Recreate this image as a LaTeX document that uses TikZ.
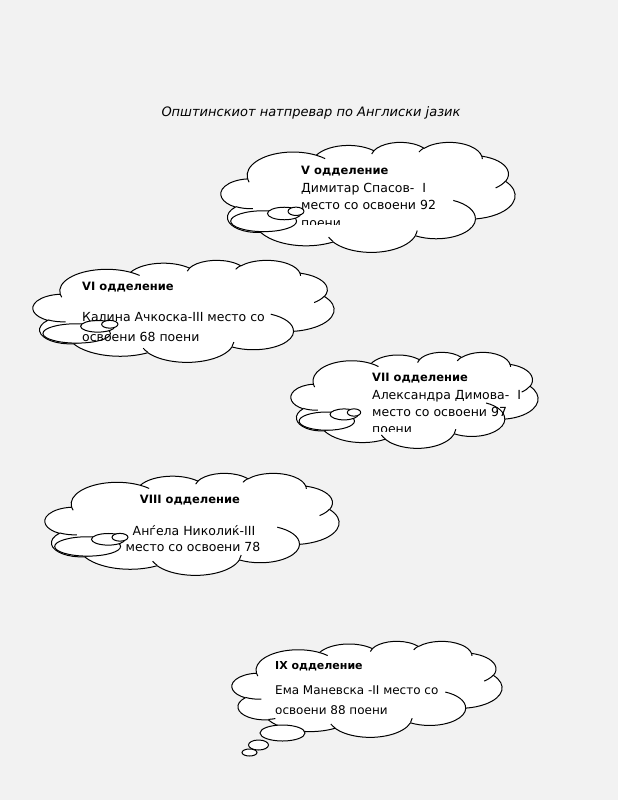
\documentclass[tikz,border=0pt]{standalone}
\usepackage{fontspec}
\setmainfont{DejaVu Sans}
\definecolor{bgc}{HTML}{F2F2F2}
% arc of the Office cloud: wR hR start sweep (visual angles, degrees)
\newcommand\oarc[4]{arc[x radius=#1, y radius=#2,
  start angle={atan2((#1)*sin(#3),(#2)*cos(#3))},
  delta angle={mod(atan2((#1)*sin((#3)+(#4)),(#2)*cos((#3)+(#4)))-atan2((#1)*sin(#3),(#2)*cos(#3))+720,360)}]}
\newcommand\cloudbody{(3.900,14.370)
  \oarc{6.753}{9.190}{-190.4875}{123.7805}
  \oarc{5.333}{7.267}{-144.1024}{89.9452}
  \oarc{4.365}{5.945}{-145.8079}{99.7230}
  \oarc{4.857}{6.595}{-130.9861}{117.2417}
  \oarc{5.333}{7.273}{-78.7089}{109.0269}
  \oarc{6.775}{9.220}{-46.2673}{130.2690}
  \oarc{5.785}{7.867}{0.6250}{114.0333}
  \oarc{6.752}{9.215}{22.4516}{115.1726}
  \oarc{7.720}{10.543}{66.2426}{75.7110}
  \oarc{4.360}{5.918}{-274.9421}{146.7356}
  \oarc{4.345}{5.945}{-246.8285}{152.5189} -- cycle}
\newcommand\cloudinner{(4.693,26.177) \oarc{4.345}{5.945}{86.7420}{26.4295}
  (6.928,34.899) \oarc{4.360}{5.918}{73.6105}{11.4475}
  (16.478,39.090) \oarc{6.752}{9.215}{137.6242}{14.0811}
  (28.827,34.751) \oarc{6.752}{9.215}{6.4533}{15.9984}
  (34.129,22.954) \oarc{5.785}{7.867}{-70.2924}{70.9174}
  (41.798,15.354) \oarc{5.333}{7.273}{30.3180}{27.7515}
  (38.324,5.426) \oarc{4.857}{6.595}{-13.7443}{14.8589}
  (29.078,3.952) \oarc{4.857}{6.595}{-149.1815}{18.1954}
  (22.141,4.720) \oarc{4.365}{5.945}{-163.4943}{17.6864}
  (14.000,5.192) \oarc{6.753}{9.190}{-66.7070}{12.3194}
  (4.127,15.789) \oarc{6.753}{9.190}{157.6544}{11.8582}}
% L T W H innertail(1/0)
\newcommand\drawcloud[5]{%
  \pgfmathsetmacro\cxs{#3/43.2}\pgfmathsetmacro\cys{#4/43.2}%
  \begin{scope}[shift={(#1,#2)},x=\cxs pt,y=-\cys pt]
    \filldraw[cloudline] \cloudbody;
    \draw[cloudline] \cloudinner;
    \ifnum#5=1
      \filldraw[cloudline] (6.264,31.10) ellipse[x radius=4.84,y radius=4.10];
      \filldraw[cloudline] (9.29,28.08) ellipse[x radius=2.46,y radius=2.46];
      \filldraw[cloudline] (11.02,27.22) ellipse[x radius=1.17,y radius=1.64];
    \fi
  \end{scope}}
\tikzset{
  cloudline/.style={draw=black,fill=white,line width=1pt},
  txt/.style={inner sep=0pt,anchor=base west,font=\fontsize{12.5}{14}\selectfont},
  txtc/.style={inner sep=0pt,anchor=base,font=\fontsize{12.5}{14}\selectfont},
  hd/.style={font=\fontsize{11.5}{14}\selectfont\bfseries},
  small/.style={font=\fontsize{12}{14}\selectfont},
  hdsmall/.style={font=\fontsize{11}{14}\selectfont\bfseries},
}
\begin{document}
\begin{tikzpicture}[x=1pt,y=-1pt]
\fill[bgc] (0,0) rectangle (618,800);
\useasboundingbox (0,0) rectangle (618,800);

\node[inner sep=0pt,anchor=base,font=\fontsize{13}{15}\selectfont\itshape] (title) at (311,116) {Општинскиот натпревар по Англиски јазик};

% V
\drawcloud{221}{142}{294}{110}{1}
\begin{scope}
\clip (262,150) rectangle (470,224);
\node[txt,hd] (v1) at (301,174.5) {V одделение};
\node[txt] (v2) at (301,192) {Димитар Спасов-\ \ I};
\node[txt] (v3) at (301,209.5) {место со освоени 92};
\node[txt] (v4) at (301,227) {поени};
\end{scope}

% VI
\drawcloud{33}{260}{301}{102}{1}
\node[txt,hd] (vi1) at (82,290) {VI одделение};
\node[txt] (vi2) at (82,321.5) {Калина Ачкоска-III место со};
\node[txt] (vi3) at (82,341) {освоени 68 поени};

% VII
\drawcloud{291}{352}{247}{96}{1}
\begin{scope}
\clip (320,360) rectangle (530,431);
\node[txt,hd] (vii1) at (372,381.5) {VII одделение};
\node[txt] (vii2) at (372,399) {Александра Димова-\ \ I};
\node[txt] (vii3) at (372,416) {место со освоени 97};
\node[txt] (vii4) at (372,433) {поени};
\end{scope}

% VIII
\drawcloud{45}{473}{294}{102}{1}
\node[txtc,hd] (viii1) at (190,503) {VIII одделение};
\node[txtc] (viii2) at (194,535) {Анѓела Николиќ-III};
\node[txtc] (viii3) at (193,551.5) {место со освоени 78};

% IX
\drawcloud{232}{641}{270}{96}{0}
\filldraw[cloudline] (282.5,733) ellipse[x radius=22.5,y radius=8];
\filldraw[cloudline] (258.5,745) ellipse[x radius=10,y radius=5];
\filldraw[cloudline] (249.5,752.5) ellipse[x radius=7.5,y radius=3.5];
\begin{scope}
\clip (260,650) rectangle (480,713);
\node[txt,hdsmall] (ix1) at (275,669) {IX одделение};
\node[txt,small] (ix2) at (275,694) {Ема Маневска -II место со};
\node[txt,small] (ix3) at (275,714) {освоени 88 поени};
\end{scope}
\end{tikzpicture}
\end{document}
